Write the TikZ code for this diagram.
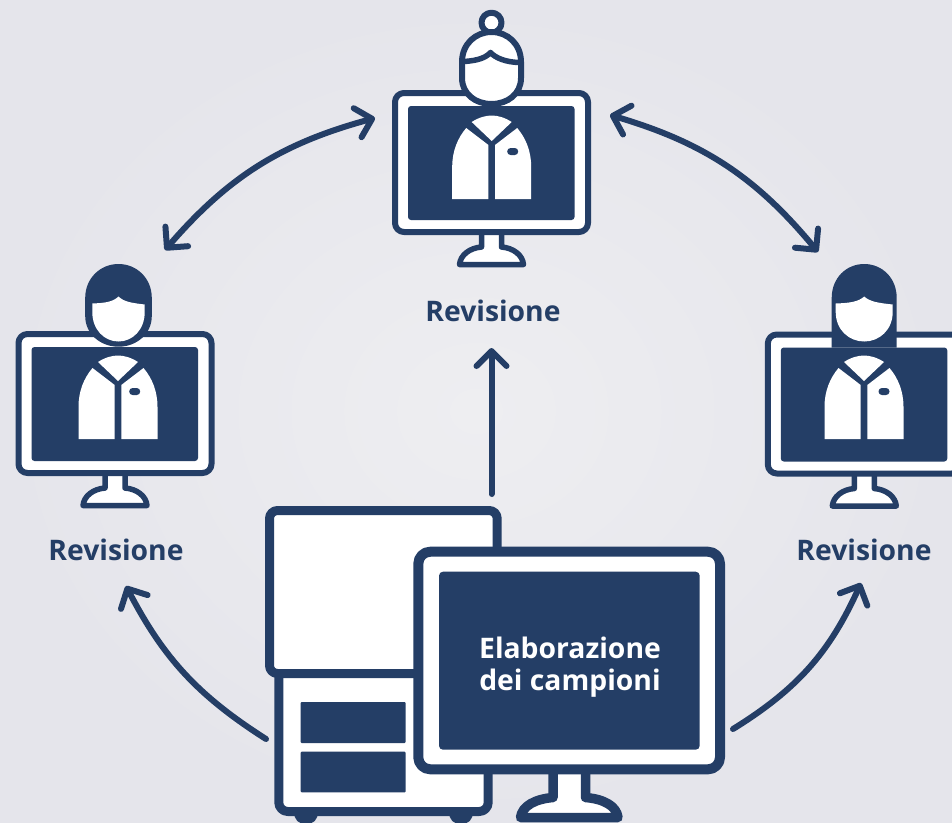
\documentclass[tikz,border=0pt]{standalone}
\usepackage{fontspec}
\setmainfont{Open Sans}
\usetikzlibrary{arrows.meta}
\definecolor{navy}{HTML}{243E66}
\tikzset{
  x=1pt,y=-1pt,
  dk/.style={draw=navy,line width=#1,line join=round},
  dk/.default=6,
  flow/.style={draw=navy,line width=6pt,line cap=round,line join=round,>={Straight Barb[length=15pt,width=30pt,round]}},
  lbl/.style={text=navy,font=\fontsize{28.3}{32}\selectfont\bfseries,inner sep=0pt},
}
\newcommand{\monitorshape}[2]{%
\begin{scope}[shift={(#1,#2)}]
  \draw[dk=5.5,fill=white] (-10,140) -- (-10,157) .. controls (-22,158) and (-31,165) .. (-32,174.5) -- (32,174.5) .. controls (31,165) and (22,158) .. (10,157) -- (10,140) -- cycle;
  \draw[dk=6,fill=white,rounded corners=9] (-96.5,3) rectangle (96.5,142);
  \fill[navy,rounded corners=3] (-83.5,16) rectangle (83,130);
\end{scope}}
\newcommand{\coatshape}[3]{%
\begin{scope}[shift={(#1,#2)}]
  \fill[white] (-39.5,0) -- (-39.5,-32) .. controls (-39.5,-48) and (-34,-61) .. (-25.5,-71) -- (-3.3,-54) -- (-3.3,0) -- cycle;
  \fill[white] (39.5,0) -- (39.5,-32) .. controls (39.5,-48) and (34,-61) .. (25.5,-71) -- (3.3,-54) -- (3.3,0) -- cycle;
  \fill[white] (-20,-77) .. controls (-13,-81.5) and (-6,-83.5) .. (0,-83.5) .. controls (6,-83.5) and (13,-81.5) .. (20,-77) -- (0,-58) -- cycle;
  \fill[navy,rounded corners=3.4] (#3-5.5,-51) rectangle (#3+5.5,-44);
\end{scope}}
\newcommand{\facepath}{(-28.5,303.5) .. controls (-15,303) and (-6,302) .. (0,296.5) .. controls (6,302) and (15,303) .. (28.5,304.5) -- (28.5,312) .. controls (28.5,330) and (15,341.5) .. (0,341.5) .. controls (-15,341.5) and (-28.5,330) .. (-28.5,312) -- cycle}
\begin{document}
\begin{tikzpicture}
\useasboundingbox (0,0) rectangle (952,822);
\clip (0,0) rectangle (952,822);
\shade[inner color={rgb,255:red,238;green,238;blue,241},outer color={rgb,255:red,229;green,229;blue,235}] (0,0) rectangle (952,822);

% --- top doctor
\monitorshape{491.5}{90}
\coatshape{491.7}{199}{21}
\begin{scope}[shift={(491.5,0)}]
  \draw[dk=6,fill=white] (0,22.7) circle[radius=10];
  \draw[dk=6,fill=white] (-29.5,62) .. controls (-29.5,44) and (-16,32) .. (0,32) .. controls (16,32) and (29.5,44) .. (29.5,62) -- (29.5,78) .. controls (29.5,94) and (16,104) .. (0,104) .. controls (-16,104) and (-29.5,94) .. (-29.5,78) -- cycle;
  \draw[dk=5.5] (-27,61.5) .. controls (-14,60.5) and (-6,58) .. (-1,52.5) .. controls (4,58) and (14,62) .. (27,62.5);
\end{scope}

% --- left doctor
\monitorshape{115}{331}
\coatshape{118}{439}{16.7}
\begin{scope}[shift={(118.5,0)}]
  \fill[navy] (-33.3,298) .. controls (-33.3,278) and (-18,264) .. (0,264) .. controls (18,264) and (33.3,278) .. (33.3,298) -- (33.3,316) .. controls (33.3,334) and (18,346.7) .. (0,346.7) .. controls (-18,346.7) and (-33.3,334) .. (-33.3,316) -- cycle;
  \begin{scope}[xscale=0.92]
    \fill[white] \facepath;
  \end{scope}
\end{scope}

% --- right doctor
\monitorshape{864.3}{331.5}
\coatshape{864}{439}{20}
\begin{scope}[shift={(864.2,0)}]
  \fill[navy] (-32.5,347.7) -- (-32.5,298) .. controls (-32.5,278) and (-18,264) .. (0,264) .. controls (18,264) and (32.5,278) .. (32.5,298) -- (32.5,347.7) -- cycle;
  \fill[white] \facepath;
\end{scope}

% --- instrument
\foreach \fx in {306,461}{\fill[navy] (\fx-12.5,812) -- (\fx+12.5,812) .. controls (\fx+11,820) and (\fx+8,824) .. (\fx,824) .. controls (\fx-8,824) and (\fx-11,820) .. (\fx-12.5,812) -- cycle;}
\draw[dk=9,fill=white,rounded corners=9] (278.8,680) -- (278.8,811.5) -- (488.2,811.5) -- (488.2,640) -- (278.8,640) -- cycle;
\fill[navy,rounded corners=1] (300.7,702) rectangle (405.7,743);
\fill[navy,rounded corners=1] (300.7,751.7) rectangle (405.7,792.3);
\draw[dk=9,fill=white,rounded corners=8] (269.5,510.5) rectangle (497.2,673.5);

% --- big monitor
\draw[dk=9.5,fill=white] (553,765) -- (553,797.5) .. controls (535,799) and (522,806) .. (520.5,817.5) -- (618,817.5) .. controls (616.5,806) and (604,799) .. (585.5,797.5) -- (585.5,765) -- cycle;
\draw[dk=10,fill=white,rounded corners=12] (418.3,551.7) rectangle (720,769.3);
\fill[navy,rounded corners=4] (439,571.7) rectangle (699.7,749.7);
\node[lbl,text=white,align=center] (proc) at (570,667.5) {Elaborazione\\dei campioni};

% --- labels
\node[lbl] (revT) at (493,311) {Revisione};
\node[lbl] (revL) at (116,550) {Revisione};
\node[lbl] (revR) at (864,550) {Revisione};

% --- connector ends
\coordinate (tlA) at (165,250);
\coordinate (tlB) at (375,118);
\coordinate (trA) at (610,115);
\coordinate (trB) at (818,252);
\coordinate (vA) at (491.5,494);
\coordinate (vB) at (491.5,348);
\coordinate (blA) at (266,739);
\coordinate (blB) at (126,586);
\coordinate (brA) at (733,729);
\coordinate (brB) at (861,583);

\draw[flow,<->] (tlA) to[bend left=17] (tlB);
\draw[flow,<->] (trA) to[bend left=17] (trB);
\draw[flow,->] (vA) -- (vB);
\draw[flow,->] (blA) to[bend left=15] (blB);
\draw[flow,->] (brA) to[bend right=17] (brB);
\end{tikzpicture}
\end{document}
